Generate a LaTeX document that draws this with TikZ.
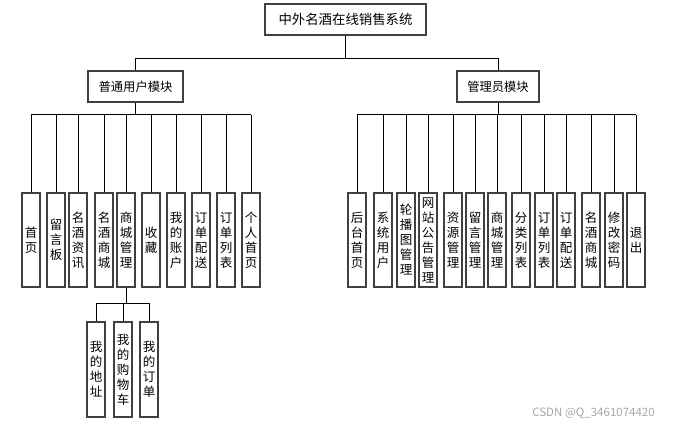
\documentclass[tikz,border=0pt]{standalone}
\usepackage{fontspec}
\newfontfamily\cjk{Noto Sans CJK SC}
\begin{document}
\begin{tikzpicture}[x=1pt,y=-1pt,
  conn/.style={draw=black, line width=1pt},
  topbox/.style={draw=black!75, line width=1.2pt, fill=white, minimum width=161pt, minimum height=31pt, inner sep=0pt, font=\cjk\fontsize{13.4}{15}\selectfont},
  modbox/.style={draw=black!75, line width=1.2pt, fill=white, minimum height=31pt, inner sep=0pt, font=\cjk\fontsize{12.3}{14}\selectfont},
  leaf/.style={draw=black!75, line width=1.2pt, fill=white, minimum width=18pt, minimum height=94pt, inner sep=0pt, align=center, font=\cjk\fontsize{12.5}{15}\selectfont}]
\useasboundingbox (0,0) rectangle (676,427);
% top
\node[topbox] (top) at (345.5,19.5) {中外名酒在线销售系统};
\node[modbox, minimum width=95pt] (user) at (135.5,86.5) {普通用户模块};
\node[modbox, minimum width=82pt] (admin) at (498,86.5) {管理员模块};
\coordinate (tbus) at (0,59);
\draw[conn] (top.south) -- (top.south |- tbus);
\draw[conn] (user.north) -- (user.north |- tbus) -- (admin.north |- tbus) -- (admin.north);
% left leaves
\coordinate (lbus) at (0,115);
\node[leaf] (l1) at (31,240) {首\\页};
\node[leaf] (l2) at (56,240) {留\\言\\板};
\node[leaf] (l3) at (78,240) {名\\酒\\资\\讯};
\node[leaf] (l4) at (104,240) {名\\酒\\商\\城};
\node[leaf] (l5) at (126,240) {商\\城\\管\\理};
\node[leaf] (l6) at (151,240) {收\\藏};
\node[leaf] (l7) at (176,240) {我\\的\\账\\户};
\node[leaf] (l8) at (201,240) {订\\单\\配\\送};
\node[leaf] (l9) at (226,240) {订\\单\\列\\表};
\node[leaf] (l10) at (251,240) {个\\人\\首\\页};
\draw[conn] (user.south) -- (user.south |- lbus);
\draw[conn] (l1.north |- lbus) -- (l10.north |- lbus);
\foreach \n in {l1,l2,l3,l4,l5,l6,l7,l8,l9,l10}
  \draw[conn] (\n.north) -- (\n.north |- lbus);
% right leaves
\coordinate (rbus) at (0,115);
\node[leaf] (r1) at (357,240) {后\\台\\首\\页};
\node[leaf] (r2) at (383,240) {系\\统\\用\\户};
\node[leaf] (r3) at (406,240) {轮\\播\\图\\管\\理};
\node[leaf] (r4) at (428,240) {网\\站\\公\\告\\管\\理};
\node[leaf] (r5) at (453,240) {资\\源\\管\\理};
\node[leaf] (r6) at (475,240) {留\\言\\管\\理};
\node[leaf] (r7) at (497,240) {商\\城\\管\\理};
\node[leaf] (r8) at (521,240) {分\\类\\列\\表};
\node[leaf] (r9) at (544,240) {订\\单\\列\\表};
\node[leaf] (r10) at (566,240) {订\\单\\配\\送};
\node[leaf] (r11) at (591,240) {名\\酒\\商\\城};
\node[leaf] (r12) at (614,240) {修\\改\\密\\码};
\node[leaf] (r13) at (636,240) {退\\出};
\draw[conn] (admin.south) -- (admin.south |- rbus);
\draw[conn] (r1.north |- rbus) -- (r13.north |- rbus);
\foreach \n in {r1,r2,r3,r4,r5,r6,r7,r8,r9,r10,r11,r12,r13}
  \draw[conn] (\n.north) -- (\n.north |- rbus);
% sub leaves
\coordinate (sbus) at (0,303);
\node[leaf, minimum height=95pt] (s1) at (96,369.5) {我\\的\\地\\址};
\node[leaf, minimum height=95pt] (s2) at (123,369.5) {我\\的\\购\\物\\车};
\node[leaf, minimum height=95pt] (s3) at (149,369.5) {我\\的\\订\\单};
\draw[conn] (l5.south) -- (l5.south |- sbus);
\draw[conn] (s1.north |- sbus) -- (s3.north |- sbus);
\foreach \n in {s1,s2,s3}
  \draw[conn] (\n.north) -- (\n.north |- sbus);
% watermark
\node[text=black!35, font=\cjk\fontsize{11.5}{13}\selectfont, inner sep=0pt] (wm) at (593.5,413) {CSDN @Q\_3461074420};
\end{tikzpicture}
\end{document}
